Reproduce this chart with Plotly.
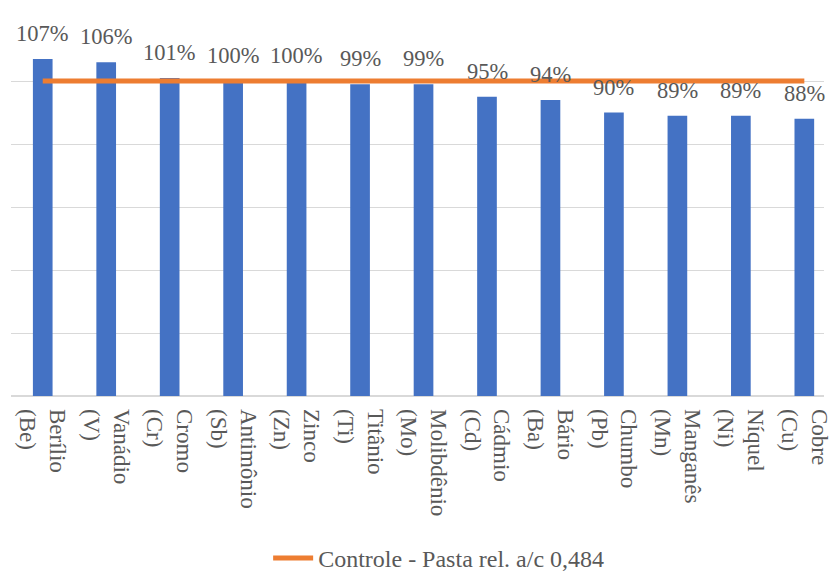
import plotly.graph_objects as go

# Elements (two-line labels) and measured ratio vs. control paste
categories = [
    "Berílio<br>(Be)", "Vanádio<br>(V)", "Cromo<br>(Cr)", "Antimônio<br>(Sb)",
    "Zinco<br>(Zn)", "Titânio<br>(Ti)", "Molibdênio<br>(Mo)", "Cádmio<br>(Cd)",
    "Bário<br>(Ba)", "Chumbo<br>(Pb)", "Manganês<br>(Mn)", "Níquel<br>(Ni)",
    "Cobre<br>(Cu)",
]
ratios = [1.07, 1.06, 1.01, 1.00, 1.00, 0.99, 0.99, 0.95, 0.94, 0.90, 0.89, 0.89, 0.88]
control = [1.00] * len(categories)
control_name = "Controle - Pasta rel. a/c 0,484"

FONT = "Times New Roman"
TEXT_GRAY = "#595959"
GRID = "#D9D9D9"
BLUE = "#4472C4"
ORANGE = "#ED7D31"

fig = go.Figure()

fig.add_trace(go.Bar(
    x=categories, y=ratios,
    marker=dict(color=BLUE, line=dict(width=0)),
    width=0.31,
    showlegend=False,
    hoverinfo="x+y",
))

fig.add_trace(go.Scatter(
    x=categories, y=control,
    mode="lines",
    line=dict(color=ORANGE, width=5),
    name=control_name,
))

# Percentage labels above each bar
for c, v in zip(categories, ratios):
    fig.add_annotation(
        x=c, y=v, text=f"{v:.0%}",
        showarrow=False, yanchor="bottom", yshift=11,
        font=dict(family=FONT, size=22.5, color=TEXT_GRAY),
    )

fig.update_layout(
    width=832, height=571,
    margin=dict(l=11, r=0, t=18, b=175),
    paper_bgcolor="white", plot_bgcolor="white",
    font=dict(family=FONT, color=TEXT_GRAY),
    legend=dict(
        orientation="h", xref="paper", x=0.526, xanchor="center",
        yref="container", y=0.022, yanchor="middle",
        font=dict(family=FONT, size=24, color=TEXT_GRAY),
        itemwidth=40,
    ),
)

fig.update_xaxes(
    type="category",
    range=[-0.5, 12.31],
    tickangle=90,
    tickfont=dict(family=FONT, size=23, color=TEXT_GRAY),
    showgrid=False, showline=False, ticks="",
    ticklabelstandoff=12,
)
fig.update_yaxes(
    range=[0, 1.2001], dtick=0.2,
    showticklabels=False,
    showgrid=True, gridcolor=GRID, gridwidth=1,
    zeroline=True, zerolinecolor=GRID, zerolinewidth=1.5,
    showline=False, ticks="",
)

fig.write_html("out.html")
